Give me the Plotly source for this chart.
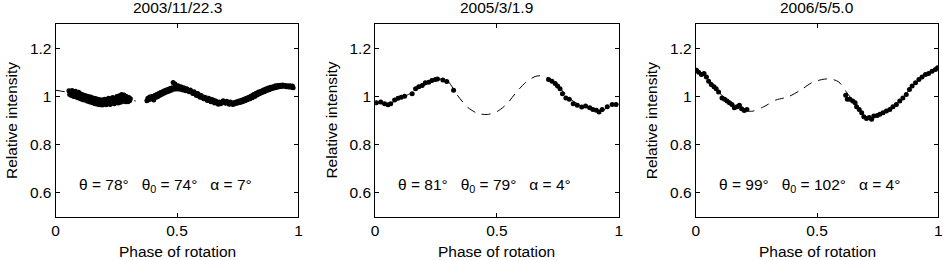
import plotly.graph_objects as go

# ---------------- data ----------------
titles = ["2003/11/22.3", "2005/3/1.9", "2006/5/5.0"]
SP = "\u00a0\u00a0\u00a0"
param_labels = [
    "θ = 78°" + SP + "θ<sub>0</sub> = 74°" + SP + "α = 7°",
    "θ = 81°" + SP + "θ<sub>0</sub> = 79°" + SP + "α = 4°",
    "θ = 99°" + SP + "θ<sub>0</sub> = 102°" + SP + "α = 4°",
]
x_tickvals = [0, 0.5, 1]
x_ticktext = ["0", "0.5", "1"]
y_tickvals = [0.6, 0.8, 1.0, 1.2]
y_ticktext = ["0.6", "0.8", "1", "1.2"]

# Panel 1 observations
p1_phase = [
    0.055, 0.058, 0.062, 0.065, 0.068, 0.072, 0.075, 0.078, 0.082, 0.085,
    0.088, 0.092, 0.095, 0.098, 0.102, 0.105, 0.108, 0.112, 0.115, 0.118,
    0.122, 0.125, 0.128, 0.132, 0.135, 0.138, 0.142, 0.145, 0.148, 0.152,
    0.155, 0.158, 0.162, 0.165, 0.168, 0.172, 0.175, 0.178, 0.182, 0.185,
    0.188, 0.192, 0.195, 0.198, 0.202, 0.205, 0.208, 0.212, 0.215, 0.218,
    0.222, 0.225, 0.228, 0.232, 0.235, 0.238, 0.242, 0.245, 0.248, 0.252,
    0.255, 0.258, 0.262, 0.265, 0.268, 0.272, 0.275, 0.278, 0.282, 0.285,
    0.288, 0.292, 0.295, 0.298, 0.302, 0.305, 0.308,
    0.376, 0.380, 0.384, 0.388, 0.392, 0.396, 0.400, 0.404, 0.408, 0.412,
    0.416, 0.420, 0.424, 0.428, 0.432, 0.436, 0.440, 0.444, 0.448, 0.452,
    0.456, 0.460, 0.464, 0.468, 0.472, 0.476, 0.480, 0.484, 0.488, 0.492,
    0.496, 0.500, 0.504, 0.508, 0.512, 0.516, 0.520, 0.524, 0.528, 0.532,
    0.536, 0.540, 0.545, 0.550, 0.555, 0.560, 0.565, 0.570, 0.575, 0.580,
    0.585, 0.590, 0.595, 0.600, 0.605, 0.610, 0.615, 0.620, 0.625, 0.630,
    0.635, 0.640, 0.645, 0.650, 0.655, 0.660, 0.665, 0.670, 0.675, 0.680,
    0.685, 0.690, 0.695, 0.700, 0.705, 0.710, 0.715, 0.720, 0.725, 0.730,
    0.735, 0.740, 0.745, 0.750, 0.755, 0.760, 0.765, 0.770, 0.775, 0.780,
    0.785, 0.790, 0.795, 0.800, 0.805, 0.810, 0.815, 0.820, 0.825, 0.830,
    0.835, 0.840, 0.845, 0.850, 0.855, 0.860, 0.865, 0.870, 0.875, 0.880,
    0.885, 0.890, 0.895, 0.900, 0.905, 0.910, 0.915, 0.920, 0.925, 0.930,
    0.935, 0.940, 0.945, 0.950, 0.955, 0.960, 0.965, 0.970, 0.975, 0.978,
]
p1_value = [
    1.024, 1.008, 1.016, 1.004, 1.025, 1.013, 1.000, 1.016, 1.022, 0.998,
    1.012, 0.995, 1.017, 1.004, 0.990, 1.010, 0.998, 0.986, 1.006, 0.993,
    0.984, 1.003, 0.990, 0.980, 1.000, 0.987, 0.977, 0.998, 0.984, 0.974,
    0.994, 0.980, 0.970, 0.991, 0.977, 0.968, 0.988, 0.975, 0.965, 0.986,
    0.972, 0.964, 0.985, 0.970, 0.988, 0.972, 0.965, 0.986, 0.970, 0.992,
    0.975, 0.967, 0.990, 0.973, 0.996, 0.980, 0.970, 0.993, 0.976, 1.000,
    0.982, 0.973, 1.003, 0.986, 0.976, 1.008, 0.990, 0.980, 1.006, 0.985,
    0.978, 1.000, 0.984, 0.978, 0.996, 0.982, 0.990,
    0.982, 0.992, 0.986, 0.998, 0.990, 1.000, 0.993, 0.985, 1.004, 0.996,
    1.008, 0.999, 1.012, 1.004, 1.016, 1.008, 1.020, 1.012, 1.024, 1.016,
    1.027, 1.020, 1.030, 1.023, 1.033, 1.026, 1.036, 1.058, 1.030, 1.052,
    1.038, 1.031, 1.045, 1.036, 1.030, 1.040, 1.033, 1.027, 1.036, 1.030,
    1.024, 1.032, 1.026, 1.020, 1.027, 1.018, 1.012, 1.020, 1.010, 1.004,
    1.012, 1.002, 0.997, 1.004, 0.995, 0.990, 0.997, 0.988, 0.983, 0.991,
    0.982, 0.978, 0.986, 0.977, 0.973, 0.981, 0.973, 0.968, 0.977, 0.970,
    0.975, 0.982, 0.976, 0.972, 0.980, 0.974, 0.968, 0.977, 0.971, 0.967,
    0.975, 0.970, 0.978, 0.973, 0.981, 0.975, 0.984, 0.978, 0.988, 0.982,
    0.992, 0.986, 0.997, 0.990, 1.002, 0.995, 1.008, 1.000, 1.013, 1.006,
    1.018, 1.011, 1.022, 1.016, 1.027, 1.020, 1.031, 1.025, 1.035, 1.028,
    1.038, 1.032, 1.040, 1.035, 1.044, 1.037, 1.046, 1.040, 1.047, 1.041,
    1.048, 1.042, 1.046, 1.040, 1.045, 1.039, 1.044, 1.038, 1.043, 1.036,
]
# Panel 1 model curve (gap where not drawn)
m1_phase = [0.0, 0.05, 0.1, 0.15, 0.2, 0.25, 0.3, 0.33, None,
            0.375, 0.4, 0.45, 0.5, 0.55, 0.6, 0.65, 0.7, 0.75, 0.8, 0.85, 0.9, 0.95, 0.98]
m1_value = [1.026, 1.017, 1.003, 0.992, 0.983, 0.984, 0.986, 0.981, None,
            0.988, 0.999, 1.020, 1.033, 1.030, 1.012, 0.993, 0.978, 0.978, 0.993, 1.015, 1.035, 1.043, 1.040]

# Panel 2 observations
p2_phase = [0.005, 0.023, 0.039, 0.053, 0.064, 0.080, 0.094, 0.107, 0.121, 0.152,
            0.166, 0.179, 0.193, 0.206, 0.220, 0.233, 0.247, 0.256, 0.278, 0.294,
            0.322,
            0.712, 0.726, 0.739, 0.749, 0.759, 0.769, 0.783, 0.797, 0.813, 0.830,
            0.848, 0.864, 0.881, 0.894, 0.908, 0.919, 0.932, 0.953, 0.973, 0.989]
p2_value = [0.974, 0.977, 0.970, 0.966, 0.970, 0.985, 0.992, 0.997, 1.001, 1.011,
            1.032, 1.040, 1.046, 1.057, 1.059, 1.066, 1.070, 1.073, 1.068, 1.062,
            1.026,
            1.070, 1.063, 1.054, 1.043, 1.032, 1.011, 0.994, 0.988, 0.970, 0.963,
            0.956, 0.960, 0.953, 0.946, 0.943, 0.935, 0.946, 0.957, 0.967, 0.967]
m2_phase = [0.0, 0.05, 0.1, 0.15, 0.2, 0.25, 0.28, 0.3, 0.34, 0.38, 0.42, 0.46,
            0.5, 0.54, 0.58, 0.62, 0.66, 0.69, 0.72, 0.75, 0.8, 0.85, 0.9, 0.93, 0.96, 1.0]
m2_value = [0.975, 0.968, 0.990, 1.015, 1.045, 1.070, 1.072, 1.062, 1.002, 0.955, 0.930, 0.925,
            0.937, 0.968, 1.018, 1.060, 1.084, 1.085, 1.070, 1.045, 0.990, 0.960, 0.945, 0.938, 0.960, 0.968]

# Panel 3 observations
p3_phase = [0.003, 0.012, 0.023, 0.034, 0.044, 0.053, 0.064, 0.075, 0.084, 0.094,
            0.108, 0.119, 0.129, 0.139, 0.149, 0.159, 0.170, 0.180, 0.189, 0.200,
            0.211,
            0.618, 0.625, 0.636, 0.647, 0.657, 0.663, 0.674, 0.684, 0.693, 0.704,
            0.715, 0.725, 0.734, 0.748, 0.759, 0.772, 0.786, 0.800, 0.813, 0.827,
            0.841, 0.854, 0.868, 0.881, 0.892, 0.906, 0.920, 0.933, 0.947, 0.960,
            0.974, 0.988, 0.997]
p3_value = [1.109, 1.101, 1.091, 1.095, 1.081, 1.063, 1.050, 1.040, 1.032, 1.018,
            0.994, 0.988, 0.981, 0.974, 0.967, 0.953, 0.957, 0.963, 0.949, 0.942,
            0.946,
            1.005, 0.988, 0.988, 0.981, 0.974, 0.957, 0.946, 0.932, 0.916, 0.908,
            0.912, 0.905, 0.919, 0.921, 0.926, 0.932, 0.939, 0.946, 0.957, 0.967,
            0.981, 0.994, 1.008, 1.029, 1.043, 1.057, 1.070, 1.081, 1.091, 1.095,
            1.105, 1.112, 1.119]
m3_phase = [0.0, 0.05, 0.1, 0.15, 0.2, 0.23, 0.28, 0.33, 0.38, 0.43, 0.48, 0.53, 0.56,
            0.59, 0.62, 0.66, 0.7, 0.73, 0.76, 0.8, 0.85, 0.9, 0.95, 1.0]
m3_value = [1.105, 1.070, 1.012, 0.970, 0.945, 0.938, 0.957, 0.985, 0.998, 1.025, 1.058, 1.072, 1.072,
            1.060, 1.020, 0.965, 0.915, 0.912, 0.922, 0.945, 0.990, 1.050, 1.090, 1.118]

panels = [
    (p1_phase, p1_value, m1_phase, m1_value),
    (p2_phase, p2_value, m2_phase, m2_value),
    (p3_phase, p3_value, m3_phase, m3_value),
]

# ---------------- figure ----------------
FONT = "Liberation Sans, Arial, Helvetica, sans-serif"
FS = 15.5
W, H = 943, 260
x_domains = [[52 / W, 297 / W], [374.3 / W, 620 / W], [697.7 / W, 942.3 / W]]
y_domain = [1 - 216.7 / H, 1 - 24.3 / H]

fig = go.Figure()
layout = dict(
    width=W, height=H,
    margin=dict(l=0, r=0, t=0, b=0),
    paper_bgcolor="white", plot_bgcolor="white",
    showlegend=False,
    font=dict(family=FONT, size=FS, color="black"),
)
annotations = []
for i, (ph, val, mph, mval) in enumerate(panels):
    sfx = "" if i == 0 else str(i + 1)
    xa, ya = "x" + sfx, "y" + sfx
    fig.add_trace(go.Scatter(
        x=mph, y=mval, mode="lines", xaxis=xa, yaxis=ya,
        line=dict(color="black", width=1, dash="9px,7px", shape="spline", smoothing=0.8),
        connectgaps=False, hoverinfo="skip",
    ))
    fig.add_trace(go.Scatter(
        x=ph, y=val, mode="markers", xaxis=xa, yaxis=ya,
        marker=dict(color="black", size=5, line=dict(width=0)),
    ))
    axis_common = dict(
        showline=True, linecolor="black", linewidth=1, mirror="ticks",
        ticks="inside", ticklen=4, tickcolor="black", tickwidth=1,
        showgrid=False, zeroline=False,
        tickfont=dict(family=FONT, size=FS, color="black"),
    )
    layout["xaxis" + sfx] = dict(
        axis_common, domain=x_domains[i], range=[0, 1], anchor=ya,
        tickvals=x_tickvals, ticktext=x_ticktext,
    )
    layout["yaxis" + sfx] = dict(
        axis_common, domain=y_domain, range=[0.5, 1.3], anchor=xa,
        tickvals=y_tickvals, ticktext=y_ticktext,
    )
    annotations.append(dict(
        text=titles[i], xref=xa + " domain", yref="paper", x=0.5, y=1 - 7 / H,
        xanchor="center", yanchor="middle", showarrow=False,
        font=dict(family=FONT, size=FS, color="black"),
    ))
    annotations.append(dict(
        text="Relative intensity", xref=xa + " domain", yref=ya + " domain",
        x=0, y=0.5, xshift=-44, textangle=-90, xanchor="center", yanchor="middle",
        showarrow=False, font=dict(family=FONT, size=FS, color="black"),
    ))
    annotations.append(dict(
        text="Phase of rotation", xref=xa + " domain", yref="paper",
        x=0.5, y=1 - 251 / H, xanchor="center", yanchor="middle",
        showarrow=False, font=dict(family=FONT, size=FS, color="black"),
    ))
    annotations.append(dict(
        text=param_labels[i], xref=xa, yref=ya, x=0.1, y=0.63,
        xanchor="left", yanchor="middle", showarrow=False, xshift=-3,
        font=dict(family=FONT, size=FS, color="black"),
    ))
layout["annotations"] = annotations
fig.update_layout(**layout)
fig.write_html(
    "out.html",
    config={"displayModeBar": False},
    post_script=(
        "document.documentElement.style.margin='0';"
        "document.documentElement.style.overflow='hidden';"
        "document.body.style.margin='0';document.body.style.padding='0';"
        "document.body.style.overflow='hidden';"
    ),
)
